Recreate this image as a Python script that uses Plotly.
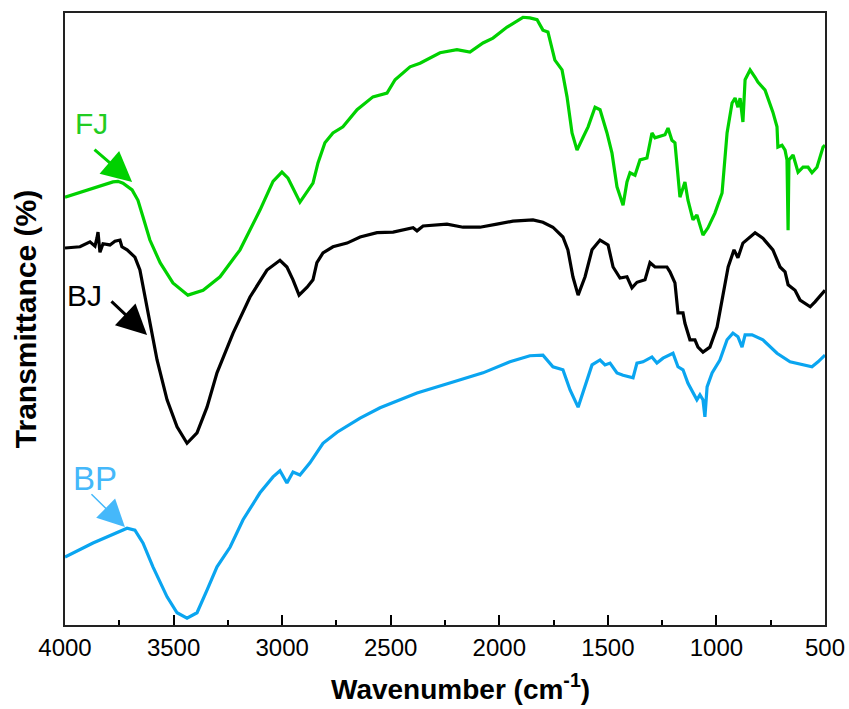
import plotly.graph_objects as go

# ---- data (transmittance in arbitrary % units) ----
fj_wn = [4000, 3779, 3756, 3733, 3691, 3664, 3641, 3609, 3562, 3503, 3434, 3364, 3286, 3194, 3102,
         3042, 3001, 2973, 2918, 2858, 2835, 2803, 2766, 2720, 2655, 2582, 2517, 2480, 2411, 2365,
         2273, 2195, 2135, 2075, 2029, 1964, 1891, 1859, 1826, 1799, 1776, 1744, 1711, 1688, 1665,
         1642, 1614, 1591, 1559, 1536, 1504, 1481, 1458, 1430, 1412, 1398, 1375, 1352, 1320, 1297,
         1283, 1237, 1223, 1205, 1191, 1177, 1168, 1145, 1131, 1108, 1090, 1062, 1039, 1007, 974,
         951, 928, 914, 901, 891, 878, 868, 845, 822, 809, 776, 740, 721, 717, 698, 684, 675,
         670, 666, 647, 624, 601, 578, 560, 537, 509, 500]
fj_t = [69.9, 72.4, 72.5, 72.2, 71.1, 69.4, 66.7, 62.9, 59.2, 55.9, 53.9, 54.7, 56.9, 61.3, 67.8,
        72.5, 74.0, 73.0, 69.1, 72.2, 75.5, 78.8, 80.4, 81.4, 84.2, 86.3, 86.9, 89.1, 91.2, 91.8,
        93.5, 94.0, 93.6, 95.1, 95.9, 97.7, 99.3, 99.2, 98.9, 97.2, 96.9, 92.3, 90.7, 86.3, 80.4,
        77.6, 79.7, 81.4, 84.6, 84.2, 80.4, 77.1, 71.6, 68.6, 72.4, 73.9, 73.5, 76.0, 76.3, 80.4,
        79.6, 80.1, 81.2, 79.2, 78.8, 73.9, 69.9, 72.4, 69.4, 66.2, 67.0, 63.7, 64.9, 67.3, 70.6,
        80.4, 85.3, 86.1, 84.6, 86.1, 82.2, 89.1, 90.7, 89.5, 88.7, 87.4, 83.8, 81.4, 78.1, 78.4,
        77.6, 76.0, 64.5, 76.0, 76.8, 74.0, 74.8, 74.8, 73.9, 74.8, 78.1, 78.4]

bj_wn = [4000, 3931, 3885, 3862, 3853, 3848, 3839, 3825, 3793, 3770, 3747, 3738, 3714, 3678, 3655,
         3632, 3609, 3576, 3530, 3484, 3438, 3392, 3346, 3300, 3226, 3148, 3070, 3010, 2978, 2950,
         2922, 2885, 2858, 2840, 2812, 2766, 2701, 2641, 2563, 2489, 2397, 2379, 2351, 2241, 2167,
         2089, 2011, 1937, 1845, 1799, 1753, 1707, 1684, 1661, 1637, 1605, 1573, 1536, 1499, 1476,
         1444, 1412, 1389, 1366, 1329, 1306, 1283, 1228, 1214, 1191, 1177, 1154, 1145, 1122, 1099,
         1085, 1062, 1030, 997, 970, 946, 919, 901, 878, 822, 786, 740, 707, 684, 670, 638, 615,
         568, 546, 509, 500]
bj_t = [61.6, 61.8, 62.6, 61.9, 63.2, 64.2, 60.9, 62.3, 62.1, 62.7, 62.9, 61.8, 61.3, 60.1, 58.0,
        53.6, 49.8, 43.3, 36.8, 32.4, 29.7, 31.4, 35.6, 41.2, 47.7, 53.6, 58.0, 59.6, 58.5, 56.4,
        53.9, 55.2, 56.4, 59.2, 60.8, 61.8, 62.4, 63.4, 64.1, 64.2, 64.9, 64.4, 65.2, 65.5, 65.0,
        65.0, 65.5, 66.0, 66.2, 65.8, 65.0, 63.4, 61.3, 56.9, 53.9, 56.9, 61.3, 62.9, 62.1, 58.5,
        56.7, 56.9, 55.1, 56.0, 56.4, 59.2, 58.5, 58.5, 57.7, 55.9, 51.0, 51.0, 49.3, 46.6, 46.6,
        45.4, 44.6, 45.4, 48.7, 54.2, 58.5, 61.3, 60.0, 62.4, 64.1, 63.2, 61.3, 58.5, 57.7, 55.6,
        54.7, 53.1, 52.0, 52.8, 54.2, 54.7]

bp_wn = [4000, 3871, 3714, 3678, 3641, 3595, 3530, 3484, 3438, 3392, 3346, 3300, 3240, 3180, 3102,
         3042, 3010, 2978, 2950, 2918, 2872, 2840, 2812, 2747, 2641, 2549, 2379, 2213, 2075, 1951,
         1859, 1799, 1753, 1707, 1674, 1637, 1605, 1573, 1536, 1513, 1490, 1458, 1430, 1398, 1384,
         1366, 1338, 1297, 1274, 1246, 1200, 1177, 1154, 1131, 1108, 1090, 1076, 1062, 1053, 1043,
         1020, 984, 951, 924, 901, 882, 868, 836, 786, 721, 661, 601, 560, 532, 500]
bp_t = [11.1, 13.4, 15.8, 15.5, 13.4, 9.5, 4.6, 2.0, 1.1, 2.0, 5.7, 9.5, 12.7, 17.2, 21.6,
        24.2, 25.2, 23.2, 25.0, 24.5, 26.5, 28.1, 29.7, 31.5, 33.8, 35.5, 37.9, 39.7, 41.2, 43.0,
        44.0, 44.1, 42.2, 41.7, 38.4, 35.6, 38.9, 42.5, 43.3, 42.5, 42.8, 41.2, 40.8, 40.5, 40.4,
        42.8, 43.0, 43.8, 42.8, 43.6, 44.4, 42.2, 41.7, 39.5, 38.1, 36.8, 37.6, 36.8, 34.0, 38.9,
        41.2, 43.3, 46.6, 47.7, 47.1, 45.4, 47.4, 47.4, 46.6, 44.4, 43.0, 42.5, 42.2, 43.0, 44.1]

x_ticks = [4000, 3500, 3000, 2500, 2000, 1500, 1000, 500]
x_minor = [3750, 3250, 2750, 2250, 1750, 1250, 750]

# labels: (text, text_wn, text_t, tip_wn, tip_t, tail_wn, tail_t)
labels = [
    ("FJ", 3876, 81.9, 3691, 72.4, 3871, 77.9),
    ("BJ", 3908, 53.9, 3622, 47.4, 3793, 53.1),
    ("BP", 3862, 24.0, 3724, 16.0, 3885, 21.6),
]

GREEN = "#00D100"
BLACK = "#000000"
BLUE = "#0AA5F0"
LBLUE = "#45B8FA"

fig = go.Figure()
fig.add_trace(go.Scatter(x=fj_wn, y=fj_t, mode="lines", line=dict(color=GREEN, width=3.2), name="FJ"))
fig.add_trace(go.Scatter(x=bj_wn, y=bj_t, mode="lines", line=dict(color=BLACK, width=3.2), name="BJ"))
fig.add_trace(go.Scatter(x=bp_wn, y=bp_t, mode="lines", line=dict(color=BLUE, width=3.2), name="BP"))

text_colors = ["#22CC22", BLACK, LBLUE]
text_sizes = [30, 30, 33]
arrow_colors = [GREEN, BLACK, LBLUE]
arrow_widths = [3, 3, 1.5]
arrow_sizes = [2.0, 2.0, 3.6]
for (txt, tx, ty, hx, hy, sx, sy), tc, ts, ac, aw, asz in zip(labels, text_colors, text_sizes, arrow_colors, arrow_widths, arrow_sizes):
    fig.add_annotation(x=tx, y=ty, xref="x", yref="y", text=txt, showarrow=False,
                       font=dict(family="Liberation Sans, Arial, sans-serif", size=ts, color=tc))
    fig.add_annotation(x=hx, y=hy, xref="x", yref="y", ax=sx, ay=sy, axref="x", ayref="y",
                       text=" ", showarrow=True, arrowhead=2, arrowsize=asz, arrowwidth=aw,
                       arrowcolor=ac, standoff=0, font=dict(size=1))

# x-axis title (slightly right of centre, as in the reference)
fig.add_annotation(x=0.521, y=0, xref="paper", yref="paper", xanchor="center", yanchor="middle",
                   yshift=-62, showarrow=False, borderpad=0,
                   text="<b>Wavenumber (cm<sup>-1</sup>)</b>",
                   font=dict(family="Liberation Sans, Arial, sans-serif", size=28, color="black"))

fig.update_layout(
    width=849, height=709,
    margin=dict(l=65, r=24, t=13, b=84, autoexpand=False),
    paper_bgcolor="white", plot_bgcolor="white",
    showlegend=False,
    font=dict(family="Liberation Sans, Arial, sans-serif", color="black"),
)
fig.update_xaxes(
    range=[4000, 500], tickvals=x_ticks, ticktext=[str(v) for v in x_ticks],
    ticks="inside", ticklen=10, tickwidth=1.5, tickcolor="black",
    minor=dict(ticks="inside", ticklen=5, tickwidth=1.5, tickcolor="black", tickvals=x_minor),
    showline=True, linecolor="#222", linewidth=1.5, mirror=True,
    showgrid=False, zeroline=False, automargin=False,
    tickfont=dict(size=24, color="black"),
)
fig.update_yaxes(
    range=[0, 100], showticklabels=False, ticks="",
    showline=True, linecolor="#222", linewidth=1.5, mirror=True,
    showgrid=False, zeroline=False, automargin=False,
    title=dict(text="<b>Transmittance (%)</b>", font=dict(size=30, color="black"), standoff=18),
)

fig.write_html("out.html")
